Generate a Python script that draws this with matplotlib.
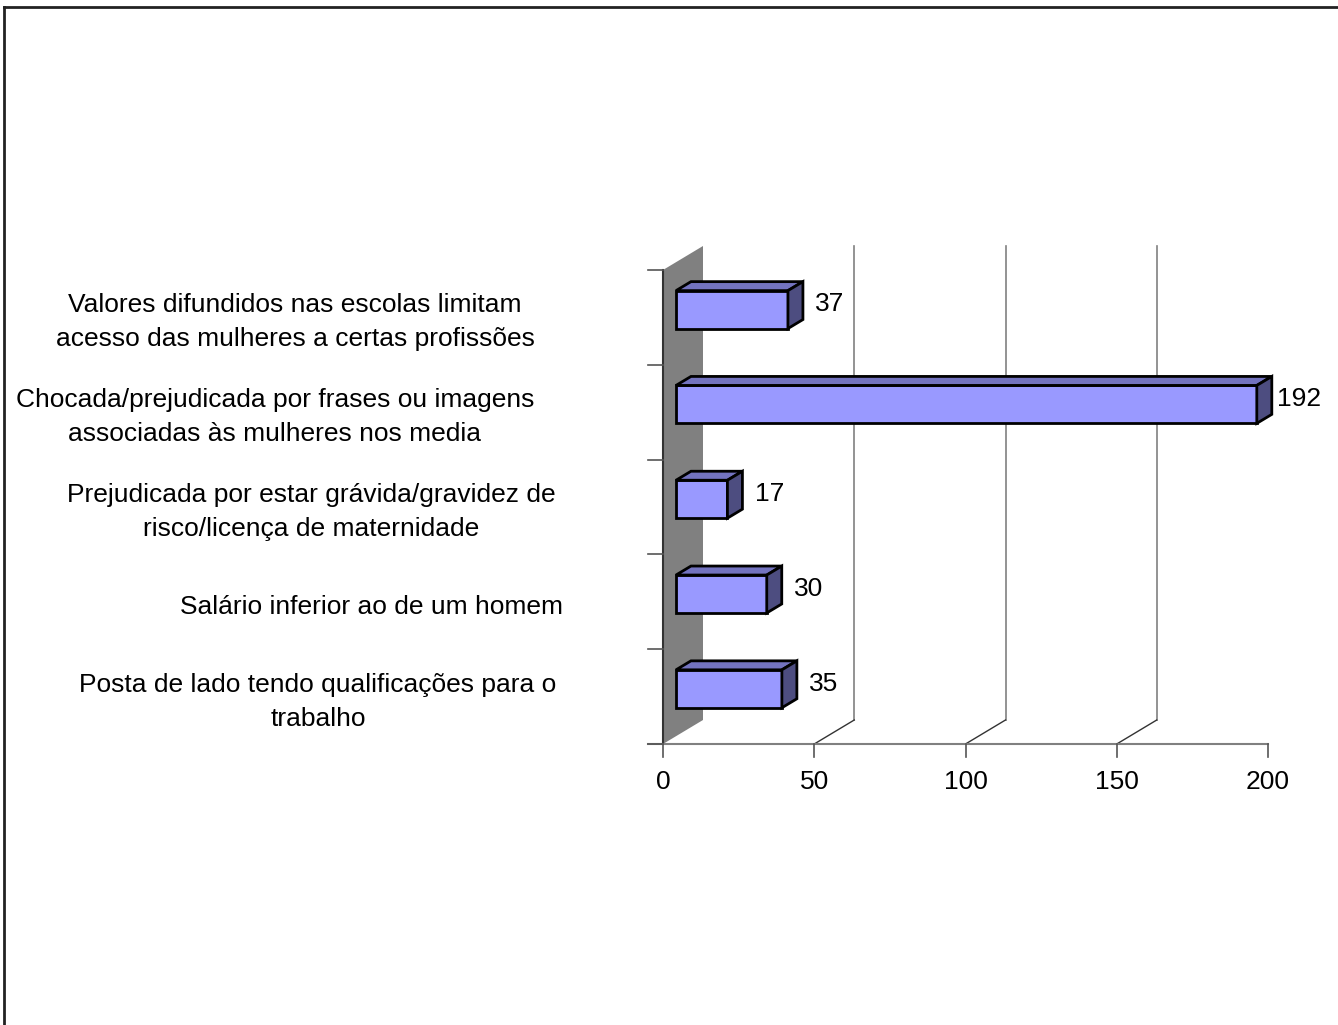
import numpy as np
import matplotlib
matplotlib.use("Agg")
import matplotlib.pyplot as plt
from matplotlib.patches import Polygon
from matplotlib.lines import Line2D
from matplotlib.transforms import IdentityTransform, offset_copy, blended_transform_factory

plt.rcParams['font.family'] = ['Liberation Sans', 'DejaVu Sans']

# categories top to bottom, as in the chart
categories = ["Valores difundidos nas escolas limitam\nacesso das mulheres a certas profissões",
              "Chocada/prejudicada por frases ou imagens\nassociadas às mulheres nos media",
              "Prejudicada por estar grávida/gravidez de\nrisco/licença de maternidade",
              "Salário inferior ao de um homem",
              "Posta de lado tendo qualificações para o\ntrabalho"]
values = [37, 192, 17, 30, 35]
xticks = [0, 50, 100, 150, 200]

# layout (pixels)
label_cx = [295, 275, 311, 372, 318]
DX, DY = 40, 24        # depth of the 3d box
D0, D1 = 0.325, 0.70   # bar depth range
FS = 19

fig = plt.figure(figsize=(13.38, 10.25), dpi=100)
ax = fig.add_axes([663/1338, 281/1025, 605/1338, 474/1025])
n = len(values)
ax.set_xlim(0, 200)
ax.set_ylim(0, n)
ax.axis('off')

def pt(x, y, d=0.0, ox=0, oy=0):
    X, Y = ax.transData.transform((x, y))
    return (X + DX*d + ox, Y + DY*d + oy)

def poly(pts, **kw):
    p = Polygon(pts, closed=True, transform=IdentityTransform(), clip_on=False, **kw)
    ax.add_patch(p)

def line(p1, p2, **kw):
    ax.add_line(Line2D([p1[0], p2[0]], [p1[1], p2[1]], transform=IdentityTransform(),
                       clip_on=False, **kw))

# side wall
poly([pt(0, 0), pt(0, n), pt(0, n, 1), pt(0, 0, 1)], facecolor='#808080', edgecolor='none', zorder=1)
line(pt(0, 0), pt(0, n), color='#333333', lw=1.5, zorder=2)

# gridlines on back wall and floor
for t in xticks[1:-1]:
    line(pt(t, 0, 1), pt(t, n, 1), color='#808080', lw=1.2, zorder=1)
    line(pt(t, 0), pt(t, 0, 1), color='#333333', lw=1, zorder=1)

# axes
line(pt(0, 0, ox=-15), pt(200, 0), color='#808080', lw=1.5, zorder=2)
for t in xticks:
    line(pt(t, 0), pt(t, 0, oy=-13), color='#555555', lw=1.2, zorder=2)
    ax.text(t, 0, str(t), transform=offset_copy(ax.transData, fig=fig, y=-38, units='dots'),
            ha='center', va='center', fontsize=FS)
for i in range(n + 1):
    line(pt(0, i, ox=-15), pt(0, i), color='#555555', lw=1.2, zorder=2)

# bars
for k, (cat, v) in enumerate(zip(categories, values)):
    yc = n - k - 0.5
    y0, y1 = yc - 0.2, yc + 0.2
    kw = dict(edgecolor='black', lw=2, joinstyle='miter', zorder=3)
    poly([pt(0, y0, D0), pt(v, y0, D0), pt(v, y1, D0), pt(0, y1, D0)], facecolor='#9999FF', **kw)
    poly([pt(0, y1, D0), pt(v, y1, D0), pt(v, y1, D1), pt(0, y1, D1)], facecolor='#7373BF', **kw)
    poly([pt(v, y0, D0), pt(v, y0, D1), pt(v, y1, D1), pt(v, y1, D0)], facecolor='#4D4D80', **kw)
    ax.text(v, yc, str(v), transform=offset_copy(ax.transData, fig=fig, x=55, y=13, units='dots'),
            ha='center', va='center', fontsize=FS, zorder=4)

    # category label, one line at a time
    lines = cat.split('\n')
    tr = blended_transform_factory(IdentityTransform(), ax.transData)
    for j, s in enumerate(lines):
        off = (len(lines) - 1) / 2 * 34 - j * 34 - 5
        ax.text(label_cx[k], yc, s, transform=offset_copy(tr, fig=fig, y=off, units='dots'),
                ha='center', va='center', fontsize=FS)

# outer frame (top and left only visible)
fig.add_artist(Line2D([4/1338, 1], [1 - 7/1025, 1 - 7/1025], color='#222222', lw=2))
fig.add_artist(Line2D([4/1338, 4/1338], [0, 1 - 7/1025], color='#222222', lw=2))

fig.savefig("out.png", dpi=100)
